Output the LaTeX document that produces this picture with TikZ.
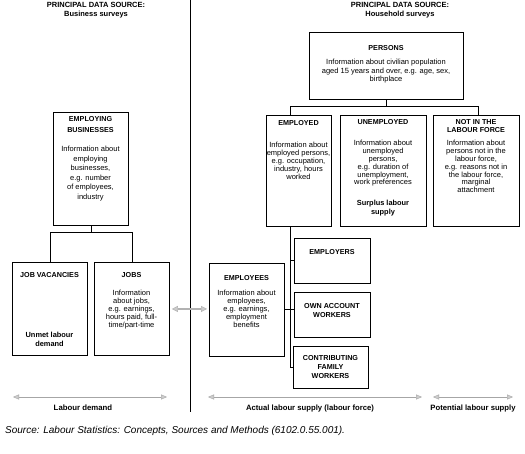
\documentclass[tikz,border=0pt]{standalone}
\usepackage{fontspec}
\setmainfont{Liberation Sans}
\usetikzlibrary{arrows.meta,calc}
\begin{document}
\begin{tikzpicture}[x=1pt,y=-1pt,
  box/.style={draw, line width=0.9pt, inner sep=0, anchor=north west},
  conn/.style={line width=0.9pt},
  hd/.style={inner sep=0, anchor=north, align=center, font=\fontsize{7.2}{8.5}\selectfont\bfseries},
  bd/.style={inner sep=0, anchor=north, align=center, font=\fontsize{7.5}{7.8}\selectfont},
  top/.style={inner sep=0, anchor=north, align=center, font=\fontsize{7.5}{9}\selectfont\bfseries},
  garrow/.style={draw=black!30, line width=1.3pt, {Triangle[length=6pt,width=6pt,fill=black!20,line width=0.5pt]}-{Triangle[length=6pt,width=6pt,fill=black!20,line width=0.5pt]}},
  barrow/.style={draw=black!35, line width=0.8pt, {Triangle[length=6pt,width=5pt,fill=black!20,line width=0.4pt]}-{Triangle[length=6pt,width=5pt,fill=black!20,line width=0.4pt]}}
]
\useasboundingbox[fill=white] (0,0) rectangle (525,454);

% divider
\coordinate (dvt) at (190,0);
\coordinate (dvb) at (190,412);
\draw[conn] (dvt) -- (dvb);

% headers
\node[top] (bizhdr) at (96,2.3) {PRINCIPAL DATA SOURCE:\\Business surveys};
\node[top] (hhhdr) at (400,2.3) {PRINCIPAL DATA SOURCE:\\Household surveys};

% boxes
\node[box, minimum width=154, minimum height=67] (persons) at (309,32) {};
\node[box, minimum width=65, minimum height=111] (employed) at (266,115) {};
\node[box, minimum width=86, minimum height=111] (unemployed) at (340,115) {};
\node[box, minimum width=86, minimum height=111] (notlf) at (433,115) {};
\node[box, minimum width=75, minimum height=113] (employing) at (53,112) {};
\node[box, minimum width=75, minimum height=93] (jobvac) at (12,262) {};
\node[box, minimum width=75, minimum height=93] (jobs) at (94,262) {};
\node[box, minimum width=75, minimum height=93] (employees) at (209,263) {};
\node[box, minimum width=76, minimum height=45] (employers) at (294,238) {};
\node[box, minimum width=76, minimum height=45] (ownacc) at (294,292) {};
\node[box, minimum width=75, minimum height=42] (contrib) at (293,346) {};

% texts
\node[hd] (persons-h) at (386,45.3) {PERSONS};
\node[bd, font=\fontsize{7.5}{8.4}\selectfont] (persons-b) at (386,59.2) {Information about civilian population\\aged 15 years and over, e.g. age, sex,\\birthplace};

\node[hd] (employed-h) at (298.5,120.3) {EMPLOYED};
\node[bd] (employed-b) at (298.5,142.2) {Information about\\employed persons,\\e.g. occupation,\\industry, hours\\worked};

\node[hd] (unemployed-h) at (383,119.3) {UNEMPLOYED};
\node[bd] (unemployed-b) at (383,140.2) {Information about\\unemployed\\persons,\\e.g. duration of\\unemployment,\\work preferences};
\node[hd, font=\fontsize{7.4}{8.7}\selectfont\bfseries] (unemployed-s) at (383,200.2) {Surplus labour\\supply};

\node[hd, font=\fontsize{7.2}{7.8}\selectfont\bfseries] (notlf-h) at (476,119.3) {NOT IN THE\\LABOUR FORCE};
\node[bd] (notlf-b) at (476,140.2) {Information about\\persons not in the\\labour force,\\e.g. reasons not in\\the labour force,\\marginal\\attachment};

\node[hd, font=\fontsize{7.2}{10.5}\selectfont\bfseries] (employing-h) at (90.5,116.3) {EMPLOYING\\BUSINESSES};
\node[bd, font=\fontsize{7.5}{9.5}\selectfont] (employing-b) at (90.5,146.2) {Information about\\employing\\businesses,\\e.g. number\\of employees,\\industry};

\node[hd] (jobvac-h) at (49.5,272.3) {JOB VACANCIES};
\node[hd, font=\fontsize{7.4}{8.8}\selectfont\bfseries] (jobvac-s) at (49.5,332.2) {Unmet labour\\demand};

\node[hd] (jobs-h) at (131.5,272.3) {JOBS};
\node[bd, font=\fontsize{7.5}{8}\selectfont] (jobs-b) at (131.5,290.2) {Information\\about jobs,\\e.g. earnings,\\hours paid, full-\\time/part-time};

\node[hd] (employees-h) at (246.5,275.3) {EMPLOYEES};
\node[bd, font=\fontsize{7.5}{7.9}\selectfont] (employees-b) at (246.5,290.2) {Information about\\employees,\\e.g. earnings,\\employment\\benefits};

\node[hd] (employers-h) at (332,249.3) {EMPLOYERS};
\node[hd, font=\fontsize{7.2}{9}\selectfont\bfseries] (ownacc-h) at (332,303.3) {OWN ACCOUNT\\WORKERS};
\node[hd, font=\fontsize{7.2}{9}\selectfont\bfseries] (contrib-h) at (330.5,355.3) {CONTRIBUTING\\FAMILY\\WORKERS};

% connectors household
\coordinate (pbar) at ($(persons.south)+(0,7)$);
\draw[conn] (persons.south) -- (pbar);
\draw[conn] (pbar) -| ($(employed.north west)+(24,0)$);
\draw[conn] (pbar) -| ($(notlf.north)+(2,0)$);

\coordinate (trunk) at ($(employed.south west)+(24,0)$);
\draw[conn] (trunk) |- (contrib.west);
\draw[conn] (trunk) |- (employers.west);
\draw[conn] (employees.east) -- (ownacc.west |- employees.east);

% connectors business
\coordinate (bbar) at ($(employing.south)+(0,7)$);
\draw[conn] (employing.south) -- (bbar);
\draw[conn] (bbar) -| (jobvac.north);
\draw[conn] (bbar) -| (jobs.north);

% jobs <-> employees
\draw[garrow] ([xshift=2pt]jobs.east) -- ([xshift=-2pt]employees.west |- jobs.east);

% bottom arrows
\coordinate (ld1) at (13,397);
\coordinate (ld2) at (167,397);
\coordinate (al1) at (208,397);
\coordinate (al2) at (422,397);
\coordinate (pl1) at (433,397);
\coordinate (pl2) at (513,397);
\draw[barrow] (ld1) -- (ld2);
\draw[barrow] (al1) -- (al2);
\draw[barrow] (pl1) -- (pl2);
\node[top, font=\fontsize{7.8}{9}\selectfont\bfseries] (ld-t) at (83,405) {Labour demand};
\node[top, font=\fontsize{7.7}{9}\selectfont\bfseries] (al-t) at (310,405) {Actual labour supply (labour force)};
\node[top, font=\fontsize{7.7}{9}\selectfont\bfseries] (pl-t) at (473,405) {Potential labour supply};

% source
\node[inner sep=0, anchor=north west, font=\fontsize{10}{12}\selectfont\itshape] (src) at (5,426) {Source: Labour Statistics: Concepts, Sources and Methods (6102.0.55.001).};
\end{tikzpicture}
\end{document}
